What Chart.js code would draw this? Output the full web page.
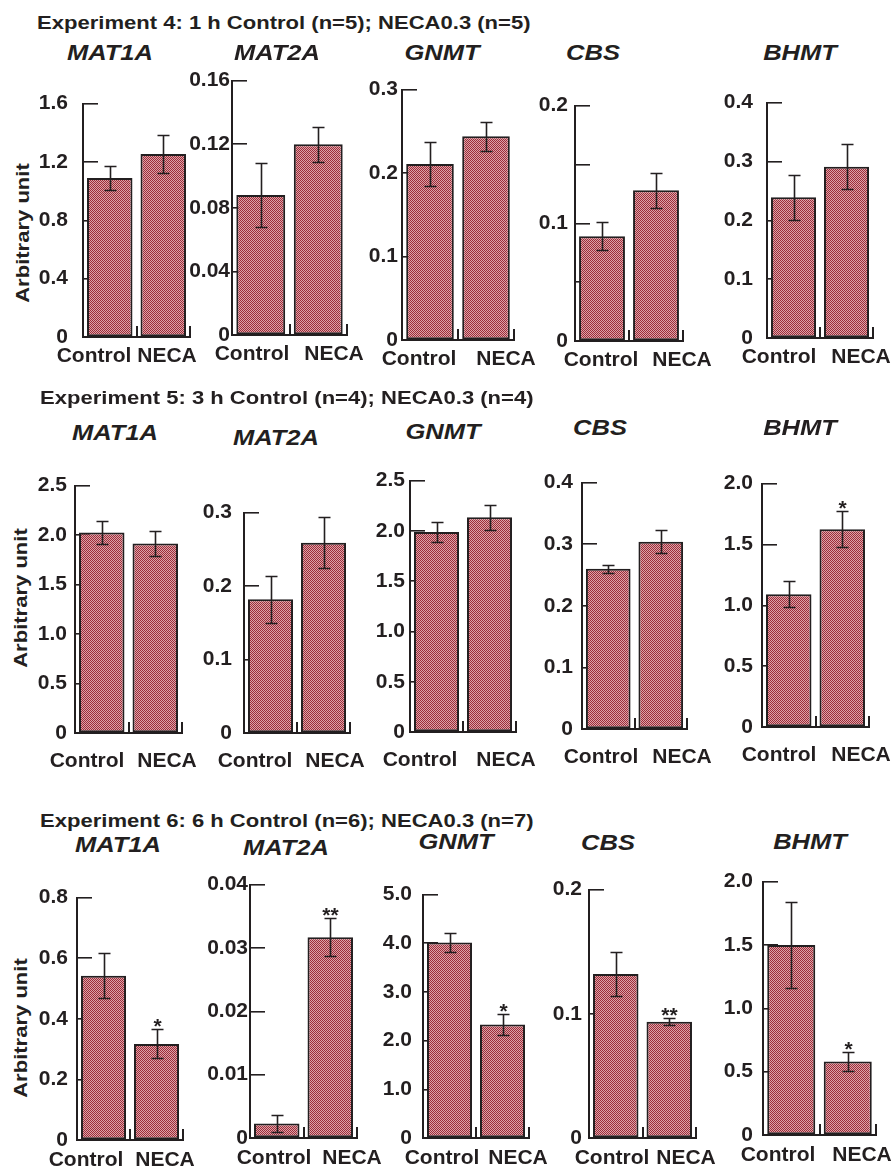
<!DOCTYPE html>
<html>
<head>
<meta charset="utf-8">
<script src="https://cdn.jsdelivr.net/npm/chart.js@4"></script>
<style>
  body { margin: 0; background: #fff; width: 894px; height: 1174px; position: relative; overflow: hidden;
         font-family: "Liberation Sans", Arial, sans-serif; color: #231f20; }
  .heading { position: absolute; font-weight: bold; font-size: 19px; line-height: 1; white-space: nowrap;
             transform-origin: 0 50%; transform: translateY(-50%) scaleX(1.16); }
  .gene { position: absolute; font-weight: bold; font-style: italic; font-size: 22px; line-height: 1; white-space: nowrap;
          transform: translate(-50%, -50%) scaleX(1.16); }
  .ylab { position: absolute; font-weight: bold; font-size: 19px; line-height: 1; white-space: nowrap;
          transform: translate(-50%, -50%) rotate(-90deg) scaleX(1.16); }
  canvas { position: absolute; }
</style>
</head>
<body>
<script>
const genes = ['MAT1A', 'MAT2A', 'GNMT', 'CBS', 'BHMT'];
const groups = ['Control', 'NECA'];
const headings = [
    'Experiment 4: 1 h Control (n=5); NECA0.3 (n=5)',
    'Experiment 5: 3 h Control (n=4); NECA0.3 (n=4)',
    'Experiment 6: 6 h Control (n=6); NECA0.3 (n=7)'
];
const yTitle = 'Arbitrary unit';

// Experiment 4 - 1 h
const exp4Control = [1.09, 0.088, 0.211, 0.089, 0.239];
const exp4ControlErr = [0.085, 0.020, 0.026, 0.012, 0.038];
const exp4Neca = [1.255, 0.120, 0.244, 0.128, 0.291];
const exp4NecaErr = [0.13, 0.011, 0.017, 0.015, 0.038];
const exp4Stars = ['', '', '', '', ''];
const exp4Max = [1.6, 0.16, 0.3, 0.2, 0.4];
const exp4Step = [0.4, 0.04, 0.1, 0.05, 0.1];
const exp4TickLabels = [
    ['0', '0.4', '0.8', '1.2', '1.6'],
    ['0', '0.04', '0.08', '0.12', '0.16'],
    ['0', '0.1', '0.2', '0.3'],
    ['0', '', '0.1', '', '0.2'],
    ['0', '0.1', '0.2', '0.3', '0.4']
];

// Experiment 5 - 3 h
const exp5Control = [2.025, 0.182, 1.99, 0.260, 1.09];
const exp5ControlErr = [0.12, 0.032, 0.10, 0.007, 0.106];
const exp5Neca = [1.915, 0.259, 2.136, 0.304, 1.624];
const exp5NecaErr = [0.125, 0.035, 0.125, 0.019, 0.147];
const exp5Stars = ['', '', '', '', '*'];
const exp5Max = [2.5, 0.3, 2.5, 0.4, 2.0];
const exp5Step = [0.5, 0.1, 0.5, 0.1, 0.5];
const exp5TickLabels = [
    ['0', '0.5', '1.0', '1.5', '2.0', '2.5'],
    ['0', '0.1', '0.2', '0.3'],
    ['0', '0.5', '1.0', '1.5', '2.0', '2.5'],
    ['0', '0.1', '0.2', '0.3', '0.4'],
    ['0', '0.5', '1.0', '1.5', '2.0']
];

// Experiment 6 - 6 h
const exp6Control = [0.542, 0.0023, 4.015, 0.132, 1.50];
const exp6ControlErr = [0.074, 0.0013, 0.20, 0.018, 0.34];
const exp6Neca = [0.317, 0.0317, 2.33, 0.0936, 0.581];
const exp6NecaErr = [0.048, 0.003, 0.22, 0.003, 0.078];
const exp6Stars = ['*', '**', '*', '**', '*'];
const exp6Max = [0.8, 0.04, 5.0, 0.2, 2.0];
const exp6Step = [0.2, 0.01, 1.0, 0.1, 0.5];
const exp6TickLabels = [
    ['0', '0.2', '0.4', '0.6', '0.8'],
    ['0', '0.01', '0.02', '0.03', '0.04'],
    ['0', '1.0', '2.0', '3.0', '4.0', '5.0'],
    ['0', '0.1', '0.2'],
    ['0', '0.5', '1.0', '1.5', '2.0']
];

const experiments = [
    { control: exp4Control, controlErr: exp4ControlErr, neca: exp4Neca, necaErr: exp4NecaErr, stars: exp4Stars, max: exp4Max, step: exp4Step, tickLabels: exp4TickLabels },
    { control: exp5Control, controlErr: exp5ControlErr, neca: exp5Neca, necaErr: exp5NecaErr, stars: exp5Stars, max: exp5Max, step: exp5Step, tickLabels: exp5TickLabels },
    { control: exp6Control, controlErr: exp6ControlErr, neca: exp6Neca, necaErr: exp6NecaErr, stars: exp6Stars, max: exp6Max, step: exp6Step, tickLabels: exp6TickLabels }
];

// page layout: [axis x, axis end x, top tick y, zero y, label gap] per panel
const panelBoxes = [
    [[83, 190, 79, 337, 15], [232, 347, 69, 335, 2], [402, 514, 76, 340, 4], [575, 683, 89, 341, 7], [767, 873, 79, 338, 14]],
    [[75, 182, 468, 733, 8], [244, 350, 491, 733, 12], [410, 516, 466, 732, 5], [582, 687, 464, 729, 9], [762, 869, 465, 727, 9]],
    [[77, 183, 879, 1140, 9], [250, 357, 873, 1138, 2], [423, 529, 874, 1138, 11], [589, 696, 873, 1138, 7], [763, 876, 862, 1135, 10]]
];
// page x of the centre of the "Control" / "NECA" labels
const groupLabelX = [
    [[94, 167], [252, 334], [419, 506], [601, 682], [779, 861]],
    [[87, 167], [255, 335], [420, 506], [601, 682], [779, 861]],
    [[86, 165], [274, 352], [442, 518], [612, 686], [778, 862]]
];
const genePos = [
    [[110, 53], [277, 53], [442, 53], [593, 53], [800, 53]],
    [[115, 433], [276, 438], [443, 432], [600, 428], [800, 428]],
    [[118, 845], [286, 848], [456, 842], [608, 843], [810, 842]]
];
const headingPos = [[37, 22], [40, 397], [40, 820]];
const yTitlePos = [[22, 233], [20, 598], [20, 1028]];
const catLabelOffset = [19, 28, 20];

const ink = '#231f20';
const fontFamily = "'Liberation Sans', Arial, sans-serif";

// 1px checkerboard, phase fixed to the page so every bar matches
const makePattern = (left, top) => {
    const c = document.createElement('canvas');
    c.width = 2;
    c.height = 2;
    const g = c.getContext('2d');
    g.fillStyle = '#dca3a9';
    g.fillRect(0, 0, 2, 2);
    g.fillStyle = '#9d2d39';
    g.fillRect(0, 0, 1, 1);
    g.fillRect(1, 1, 1, 1);
    const p = g.createPattern(c, 'repeat');
    if ((left + top) % 2 !== 0) {
        p.setTransform(new DOMMatrix().translate(1, 0));
    }
    return p;
};

const errorBars = {
    id: 'errorBars',
    afterDatasetsDraw(chart) {
        const ctx = chart.ctx;
        const y = chart.scales.y;
        const ds = chart.data.datasets[0];
        const meta = chart.getDatasetMeta(0);
        ctx.save();
        ctx.strokeStyle = ink;
        ctx.fillStyle = ink;
        ctx.lineWidth = 1.6;
        ctx.font = 'bold 21px ' + fontFamily;
        ctx.textAlign = 'center';
        ctx.textBaseline = 'alphabetic';
        meta.data.forEach((bar, i) => {
            const v = ds.data[i];
            const e = ds.errors[i];
            const top = Math.round(y.getPixelForValue(v + e)) + 0.5;
            const bot = Math.round(y.getPixelForValue(v - e)) + 0.5;
            const x = Math.round(bar.x) + 0.5;
            ctx.beginPath();
            ctx.moveTo(x, top);
            ctx.lineTo(x, bot);
            ctx.moveTo(x - 6, top);
            ctx.lineTo(x + 6, top);
            ctx.moveTo(x - 6, bot);
            ctx.lineTo(x + 6, bot);
            ctx.stroke();
            if (ds.stars[i]) {
                ctx.fillText(ds.stars[i], x, top + 3);
            }
        });
        ctx.restore();
    }
};

const addText = (cls, text, x, y) => {
    const div = document.createElement('div');
    div.className = cls;
    div.textContent = text;
    div.style.left = x + 'px';
    div.style.top = y + 'px';
    document.body.appendChild(div);
};

const buildPanel = (row, col) => {
    const exp = experiments[row];
    const [axisX, endX, topY, zeroY, gap] = panelBoxes[row][col];
    const YW = 70, PT = 18, PR = 45, XH = 48;
    const labels = exp.tickLabels[col];
    const step = exp.step[col];
    // group label centres as positions on a -0.5..1.5 axis (same mapping as the category axis)
    const labelAt = groupLabelX[row][col].map(px => (px - axisX) / (endX - axisX) * 2 - 0.5);

    const left = axisX - YW;
    const top = topY - PT;
    const canvas = document.createElement('canvas');
    canvas.width = YW + (endX - axisX) + PR;
    canvas.height = PT + (zeroY - topY) + XH;
    canvas.style.left = left + 'px';
    canvas.style.top = top + 'px';
    document.body.appendChild(canvas);

    new Chart(canvas, {
        type: 'bar',
        data: {
            labels: groups,
            datasets: [{
                data: [exp.control[col], exp.neca[col]],
                errors: [exp.controlErr[col], exp.necaErr[col]],
                stars: ['', exp.stars[col]],
                xAxisID: 'x',
                yAxisID: 'y',
                backgroundColor: makePattern(left, top),
                borderColor: ink,
                borderWidth: 2,
                borderSkipped: false,
                barPercentage: 1,
                categoryPercentage: 0.85
            }]
        },
        options: {
            responsive: false,
            animation: false,
            devicePixelRatio: 1,
            layout: { padding: { top: PT, right: PR, left: 0, bottom: 0 } },
            plugins: { legend: { display: false }, tooltip: { enabled: false } },
            scales: {
                x: {
                    weight: 0,
                    grid: { drawOnChartArea: false, tickLength: -11, color: ink, lineWidth: 2 },
                    border: { color: ink, width: 2 },
                    ticks: { display: false },
                    afterFit: (scale) => { scale.height = 0; }
                },
                groupLabels: {
                    type: 'linear',
                    axis: 'x',
                    position: 'bottom',
                    weight: 1,
                    offset: false,
                    min: -0.5,
                    max: 1.5,
                    grid: { display: false, drawTicks: false, offset: false },
                    border: { display: false },
                    afterBuildTicks: (scale) => {
                        scale.ticks = labelAt.map(v => ({ value: v }));
                    },
                    ticks: {
                        color: ink,
                        font: { family: fontFamily, size: 21, weight: 'bold' },
                        padding: catLabelOffset[row] - 12.6,
                        maxRotation: 0,
                        autoSkip: false,
                        callback: (value, index) => groups[index]
                    },
                    afterFit: (scale) => { scale.height = XH; }
                },
                y: {
                    min: 0,
                    max: exp.max[col],
                    z: 1,
                    afterBuildTicks: (scale) => {
                        scale.ticks = labels.map((_, i) => ({ value: i * step }));
                    },
                    grid: { drawOnChartArea: false, tickLength: -15, color: ink, lineWidth: 1.6 },
                    border: { color: ink, width: 2 },
                    ticks: {
                        color: ink,
                        font: { family: fontFamily, size: 21, weight: 'bold' },
                        padding: 15 + gap,
                        autoSkip: false,
                        callback: (value, index) => labels[index]
                    },
                    afterFit: (scale) => { scale.width = YW; }
                }
            }
        },
        plugins: [errorBars]
    });
};

headings.forEach((text, row) => {
    addText('heading', text, headingPos[row][0], headingPos[row][1]);
    addText('ylab', yTitle, yTitlePos[row][0], yTitlePos[row][1]);
    genes.forEach((gene, col) => {
        addText('gene', gene, genePos[row][col][0], genePos[row][col][1]);
        buildPanel(row, col);
    });
});
</script>
</body>
</html>
